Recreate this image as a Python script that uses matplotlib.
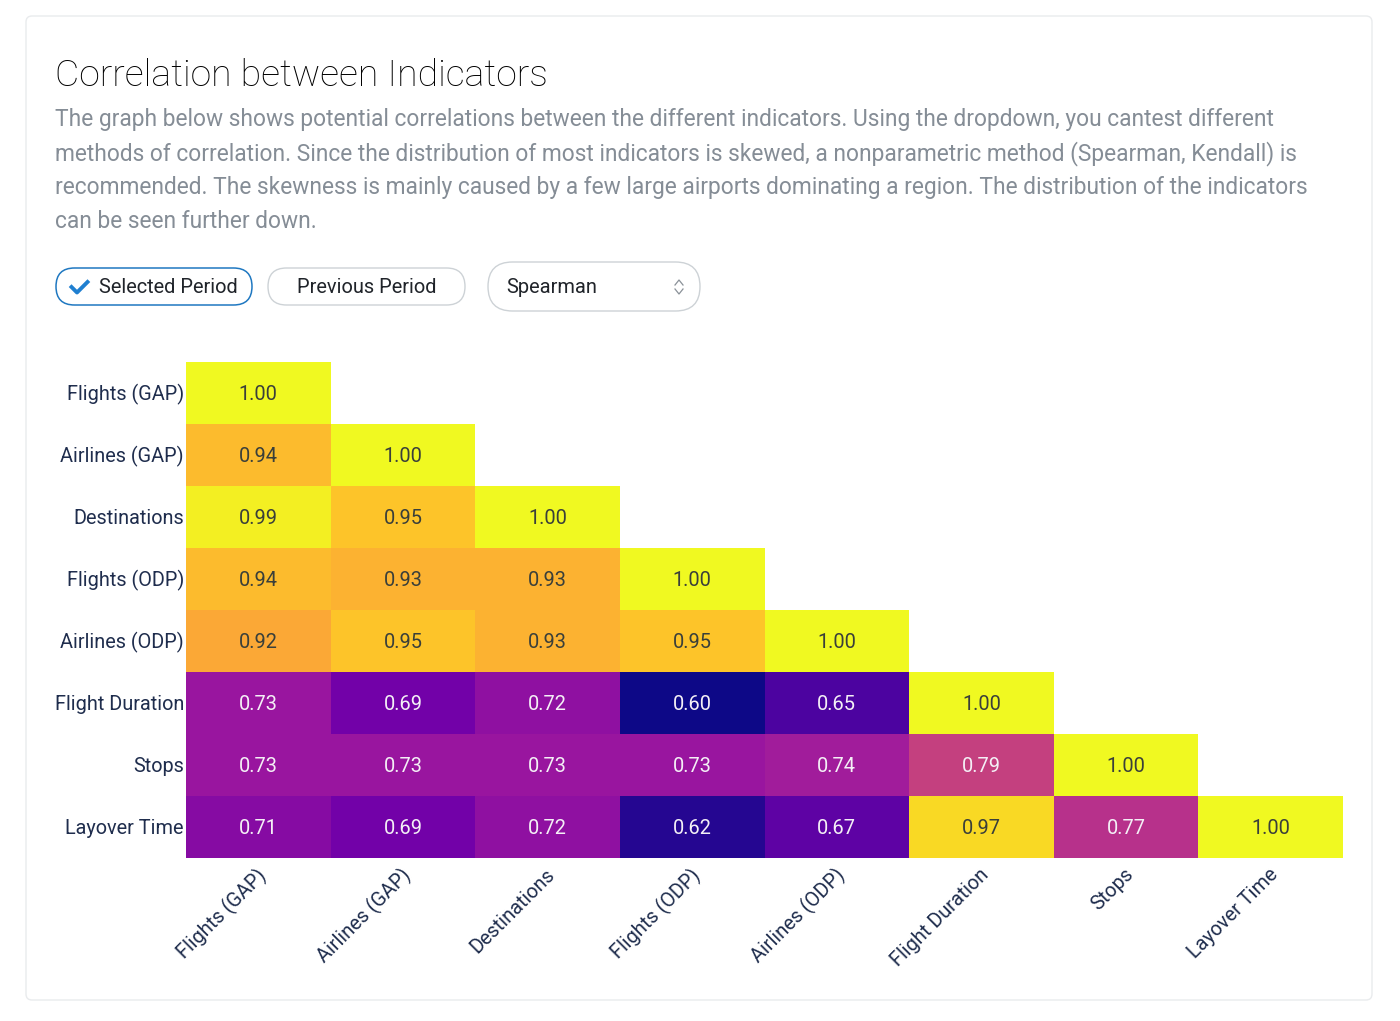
import numpy as np
import matplotlib
matplotlib.use('Agg')
import matplotlib.pyplot as plt
from matplotlib.colors import LinearSegmentedColormap
from matplotlib.patches import FancyBboxPatch
from matplotlib.transforms import ScaledTranslation

# Data
labels = ['Flights (GAP)', 'Airlines (GAP)', 'Destinations', 'Flights (ODP)',
          'Airlines (ODP)', 'Flight Duration', 'Stops', 'Layover Time']
row_flights_gap = [1.00]
row_airlines_gap = [0.94, 1.00]
row_destinations = [0.99, 0.95, 1.00]
row_flights_odp = [0.94, 0.93, 0.93, 1.00]
row_airlines_odp = [0.92, 0.95, 0.93, 0.95, 1.00]
row_duration = [0.73, 0.69, 0.72, 0.60, 0.65, 1.00]
row_stops = [0.73, 0.73, 0.73, 0.73, 0.74, 0.79, 1.00]
row_layover = [0.71, 0.69, 0.72, 0.62, 0.67, 0.97, 0.77, 1.00]
rows = [row_flights_gap, row_airlines_gap, row_destinations, row_flights_odp,
        row_airlines_odp, row_duration, row_stops, row_layover]

title = 'Correlation between Indicators'
body_lines = [
    'The graph below shows potential correlations between the different indicators. Using the dropdown, you cantest different',
    'methods of correlation. Since the distribution of most indicators is skewed, a nonparametric method (Spearman, Kendall) is',
    'recommended. The skewness is mainly caused by a few large airports dominating a region. The distribution of the indicators',
    'can be seen further down.',
]

plasma_stops = ['#0d0887', '#46039f', '#7201a8', '#9c179e', '#bd3786',
                '#d8576b', '#ed7953', '#fb9f3a', '#fdca26', '#f0f921']
cmap = LinearSegmentedColormap.from_list('plotly_plasma', plasma_stops)

plt.rcParams['font.family'] = ['Roboto', 'DejaVu Sans']
W, H = 1400, 1021
fig = plt.figure(figsize=(W / 100, H / 100), dpi=100)

# Page layer in pixel coordinates
page = fig.add_axes([0, 0, 1, 1])
page.set_xlim(0, W)
page.set_ylim(H, 0)
page.axis('off')


def pill(x0, y0, x1, y1, edge, lw=1.0, rad=None):
    rad = (y1 - y0) / 2 if rad is None else rad
    page.add_patch(FancyBboxPatch((x0 + rad, y0 + rad), x1 - x0 - 2 * rad, y1 - y0 - 2 * rad,
                                  boxstyle=f'round,pad={rad},rounding_size={rad}',
                                  fc='white', ec=edge, lw=lw))


pill(26, 16, 1372, 1000, '#e9ebed', lw=1.0, rad=6)

page.text(55, 76.5, title, fontsize=26.9, fontweight='light', color='#000000', va='center')
for i, line in enumerate(body_lines):
    page.text(55, 119.5 + i * 34, line, fontsize=16.35, color='#858d96', va='center')

pill(56, 268, 252, 305, '#1f78c1', lw=1.1)
page.plot([71.5, 77, 87.5], [287, 292.5, 282], color='#1f7fd0', lw=2.8)
page.text(99, 287.5, 'Selected Period', fontsize=14.4, color='#20242a', va='center')
pill(268, 268, 465, 305, '#cdd2d6')
page.text(297, 287.5, 'Previous Period', fontsize=14.4, color='#20242a', va='center')
pill(488, 262, 700, 311, '#cdd2d6')
page.text(506, 287.5, 'Spearman', fontsize=14.4, color='#20242a', va='center')
page.plot([675, 679, 683], [285, 280, 285], color='#8a9198', lw=0.9)
page.plot([675, 679, 683], [289, 294, 289], color='#8a9198', lw=0.9)

# Heatmap
z = np.full((len(labels), len(labels)), np.nan)
for i, row in enumerate(rows):
    z[i, :len(row)] = row

ax = fig.add_axes([186 / W, 1 - 858 / H, (1343 - 186) / W, (858 - 362) / H])
ax.patch.set_alpha(0)
ax.pcolormesh(np.ma.masked_invalid(z), cmap=cmap, vmin=0.6, vmax=1.0)
ax.set_ylim(len(labels), 0)
for spine in ax.spines.values():
    spine.set_visible(False)

for i, row in enumerate(rows):
    for j, val in enumerate(row):
        ax.annotate(f'{val:.2f}', (j + 0.5, i + 0.5), xytext=(0, -0.8), textcoords='offset points',
                    ha='center', va='center', fontsize=14.4,
                    color='#3a3f3a' if val > 0.85 else '#f4f0f6')

ax.set_xticks(np.arange(len(labels)) + 0.5)
ax.set_xticklabels(labels, rotation=45, ha='right', rotation_mode='anchor',
                   fontsize=14.3, color='#1f2d4d')
ax.set_yticks(np.arange(len(labels)) + 0.5)
ax.set_yticklabels(labels, fontsize=14.3, color='#1f2d4d')
ax.tick_params(axis='x', length=0, pad=5)
ax.tick_params(axis='y', length=0, pad=1.5)

# nudge the tick labels to where the reference has them
shift_x = ScaledTranslation(-2.5 / 100, 0, fig.dpi_scale_trans)
for lab in ax.get_xticklabels():
    lab.set_transform(lab.get_transform() + shift_x)
shift_y = ScaledTranslation(0, 1 / 100, fig.dpi_scale_trans)
for lab in ax.get_yticklabels():
    lab.set_transform(lab.get_transform() + shift_y)

fig.savefig('out.png', dpi=100, facecolor='white')
